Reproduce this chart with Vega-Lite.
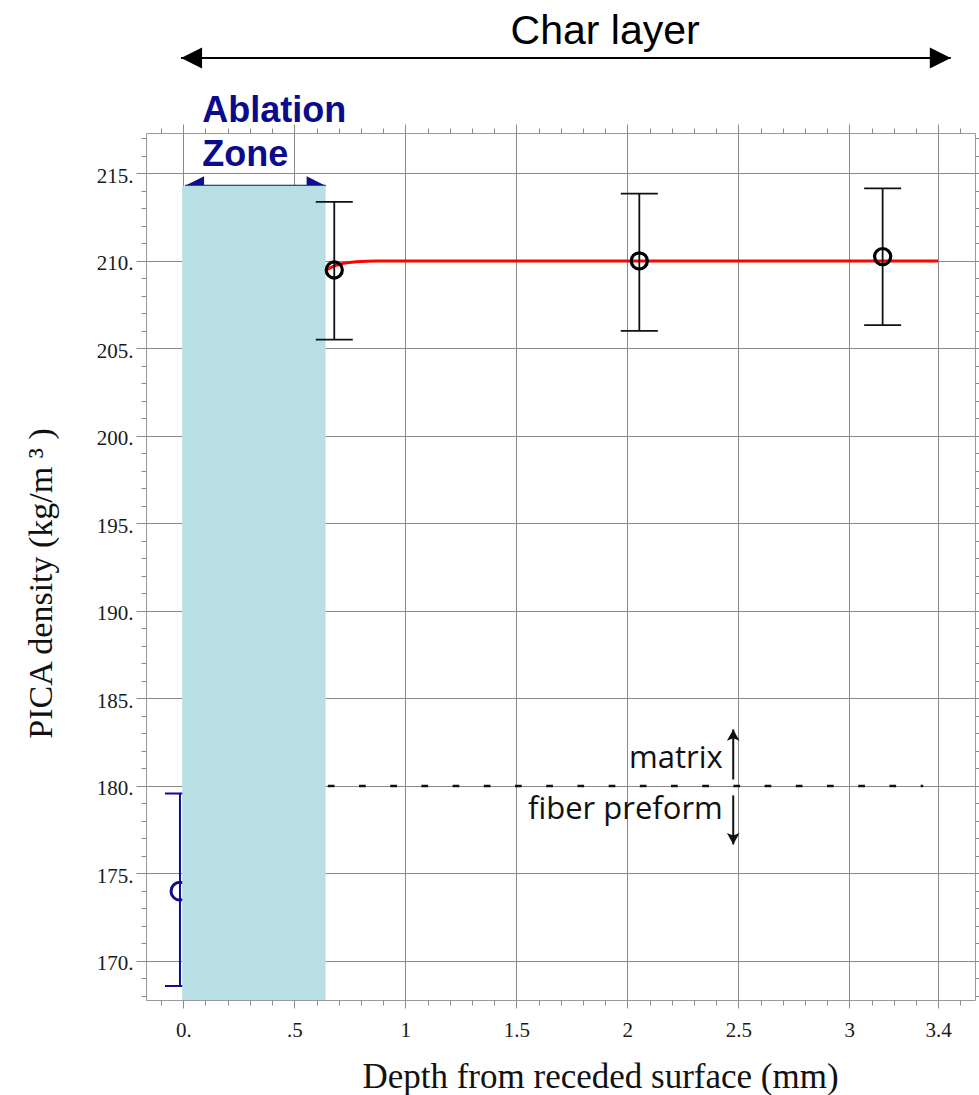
{
  "$schema": "https://vega.github.io/schema/vega-lite/v6.json",
  "width": 829,
  "height": 867,
  "autosize": {"type": "none"},
  "padding": {"left": 146, "top": 133, "right": 4, "bottom": 95},
  "background": "white",
  "config": {
    "view": {"stroke": "#9a9a9a", "strokeWidth": 1},
    "axis": {
      "domain": false, "grid": false, "tickColor": "#8a8a8a", "tickWidth": 1,
      "gridColor": "#8a8a8a", "gridWidth": 1,
      "labelFont": "Liberation Serif", "labelFontSize": 21, "labelColor": "#1a1a1a",
      "titleFont": "Liberation Serif", "titleFontSize": 34, "titleFontWeight": "normal", "titleColor": "#111111"
    }
  },
  "resolve": {"axis": {"x": "independent", "y": "independent"}},
  "datasets": {
    "blue": [{"x": -0.015, "y": 173.99, "lo": 168.57, "hi": 179.57}],
    "zoneArrow": [{"x": 0.008, "x2": 0.641, "y": 214.29}],
    "zoneHeads": [{"x": 0.008, "y": 214.29, "dir": "left"}, {"x": 0.641, "y": 214.29, "dir": "right"}],
    "zone": [{"x": -0.005, "x2": 0.641, "y": 167.77, "y2": 214.29}],
    "redline": [
      {"x": 0.646, "y": 209.5}, {"x": 0.68, "y": 209.72}, {"x": 0.72, "y": 209.86},
      {"x": 0.78, "y": 209.96}, {"x": 0.87, "y": 210.0}, {"x": 3.4, "y": 210.0}
    ],
    "pts": [
      {"x": 0.68, "y": 209.48, "lo": 205.5, "hi": 213.38},
      {"x": 2.054, "y": 210.0, "lo": 206.0, "hi": 213.85},
      {"x": 3.15, "y": 210.25, "lo": 206.33, "hi": 214.15}
    ],
    "dash": [{"x": 0.651, "x2": 3.333, "y": 180}],
    "vArrows": [{"x": 2.477, "y": 180.37, "y2": 183.23}, {"x": 2.477, "y": 179.46, "y2": 176.66}],
    "vHeads": [{"x": 2.477, "y": 183.23, "dir": "up"}, {"x": 2.477, "y": 176.66, "dir": "down"}],
    "labels": [{"x": 2.43, "y": 181.04, "label": "matrix"}, {"x": 2.43, "y": 178.09, "label": "fiber preform"}],
    "zoneText": [{"x": 0.085, "y": 217.93, "label": "Ablation"}, {"x": 0.085, "y": 215.42, "label": "Zone"}],
    "charArrow": [{"x": -0.01, "x2": 3.457, "y": 221.59}],
    "charHeads": [{"x": -0.01, "y": 221.59, "dir": "left"}, {"x": 3.457, "y": 221.59, "dir": "right"}],
    "charText": [{"x": 1.9, "y": 222.37, "label": "Char layer"}]
  },
  "layer": [
    {
      "data": {"name": "blue"},
      "mark": {"type": "errorbar", "color": "#0f0f8c", "thickness": 2, "size": 30, "ticks": true, "opacity": 1},
      "encoding": {
        "x": {"field": "x", "type": "quantitative", "axis": null},
        "y": {"field": "lo", "type": "quantitative", "axis": null},
        "y2": {"field": "hi"}
      }
    },
    {
      "data": {"name": "blue"},
      "mark": {"type": "point", "shape": "circle", "filled": false, "color": "#0f0f8c", "opacity": 1, "strokeWidth": 3, "size": 320},
      "encoding": {
        "x": {"field": "x", "type": "quantitative", "axis": null},
        "y": {"field": "y", "type": "quantitative", "axis": null}
      }
    },
    {
      "data": {"name": "zoneArrow"},
      "mark": {"type": "rule", "color": "#0f0f8c", "strokeWidth": 2},
      "encoding": {
        "x": {"field": "x", "type": "quantitative", "axis": null},
        "x2": {"field": "x2"},
        "y": {"field": "y", "type": "quantitative", "axis": null}
      }
    },
    {
      "data": {"name": "zoneHeads"},
      "mark": {"type": "point", "filled": true, "color": "#0f0f8c", "opacity": 1, "size": 361, "strokeWidth": 0},
      "encoding": {
        "x": {"field": "x", "type": "quantitative", "axis": null},
        "y": {"field": "y", "type": "quantitative", "axis": null},
        "shape": {"field": "dir", "type": "nominal", "legend": null,
          "scale": {"domain": ["left", "right", "up", "down"],
                    "range": ["M0,0L2,-1L2,1Z", "M0,0L-2,-1L-2,1Z", "M0,0L1,1.8L0,1.4L-1,1.8Z", "M0,0L1,-1.8L0,-1.4L-1,-1.8Z"]}}
      }
    },
    {
      "data": {"name": "zone"},
      "mark": {"type": "rect", "color": "#b8dfe4"},
      "encoding": {
        "x": {"field": "x", "type": "quantitative",
          "scale": {"domain": [-0.168, 3.566], "nice": false, "zero": false},
          "axis": {"orient": "bottom", "values": [0, 0.5, 1, 1.5, 2, 2.5, 3, 3.4], "grid": true,
            "tickSize": 8, "labelPadding": 11, "labelFlush": false, "labelOverlap": false,
            "labelExpr": "datum.value == 0 ? '0.' : (datum.value == 0.5 ? '.5' : '' + datum.value)",
            "title": "Depth from receded surface (mm)", "titleX": 454, "titleY": 87, "titleFontSize": 35,
            "titleAlign": "center", "titleBaseline": "alphabetic"}},
        "x2": {"field": "x2"},
        "y": {"field": "y", "type": "quantitative",
          "scale": {"domain": [167.77, 217.31], "nice": false, "zero": false},
          "axis": {"orient": "left", "values": [170, 175, 180, 185, 190, 195, 200, 205, 210, 215], "grid": true,
            "tickSize": 10, "labelPadding": 3, "labelOffset": 3, "labelFlush": false, "labelOverlap": false,
            "labelExpr": "datum.value + '.'",
            "title": "PICA density (kg/m ³ )", "titleX": -95, "titleY": 450, "titleAngle": 270,
            "titleAlign": "center", "titleBaseline": "alphabetic"}},
        "y2": {"field": "y2"}
      }
    },
    {
      "data": {"name": "redline"},
      "mark": {"type": "line", "color": "#ff0000", "strokeWidth": 3, "interpolate": "monotone"},
      "encoding": {
        "x": {"field": "x", "type": "quantitative",
          "axis": {"orient": "bottom", "values": [-0.1, 0.1, 0.2, 0.3, 0.4, 0.6, 0.7, 0.8, 0.9, 1.1, 1.2, 1.3, 1.4, 1.6, 1.7, 1.8, 1.9, 2.1, 2.2, 2.3, 2.4, 2.6, 2.7, 2.8, 2.9, 3.1, 3.2, 3.3, 3.5],
            "tickSize": 5, "labels": false, "grid": false, "title": null}},
        "y": {"field": "y", "type": "quantitative",
          "axis": {"orient": "left", "values": [168, 169, 171, 172, 173, 174, 176, 177, 178, 179, 181, 182, 183, 184, 186, 187, 188, 189, 191, 192, 193, 194, 196, 197, 198, 199, 201, 202, 203, 204, 206, 207, 208, 209, 211, 212, 213, 214, 216, 217],
            "tickSize": 5, "labels": false, "grid": false, "title": null}}
      }
    },
    {
      "data": {"name": "pts"},
      "mark": {"type": "errorbar", "color": "#111111", "thickness": 1.8, "size": 37, "ticks": true, "opacity": 1},
      "encoding": {
        "x": {"field": "x", "type": "quantitative", "axis": null},
        "y": {"field": "lo", "type": "quantitative", "axis": null},
        "y2": {"field": "hi"}
      }
    },
    {
      "data": {"name": "pts"},
      "mark": {"type": "point", "shape": "circle", "filled": false, "color": "#000000", "opacity": 1, "strokeWidth": 3.2, "size": 260},
      "encoding": {
        "x": {"field": "x", "type": "quantitative",
          "axis": {"orient": "top", "values": [0, 0.5, 1, 1.5, 2, 2.5, 3, 3.4], "tickSize": 9, "labels": false, "grid": false, "title": null}},
        "y": {"field": "y", "type": "quantitative", "axis": null}
      }
    },
    {
      "data": {"name": "dash"},
      "mark": {"type": "rule", "color": "#111111", "strokeWidth": 2.5, "strokeDash": [6.7, 24.5]},
      "encoding": {
        "x": {"field": "x", "type": "quantitative",
          "axis": {"orient": "top", "values": [-0.1, 0.1, 0.2, 0.3, 0.4, 0.6, 0.7, 0.8, 0.9, 1.1, 1.2, 1.3, 1.4, 1.6, 1.7, 1.8, 1.9, 2.1, 2.2, 2.3, 2.4, 2.6, 2.7, 2.8, 2.9, 3.1, 3.2, 3.3, 3.5],
            "tickSize": 5, "labels": false, "grid": false, "title": null}},
        "x2": {"field": "x2"},
        "y": {"field": "y", "type": "quantitative",
          "axis": {"orient": "right", "values": [168, 169, 170, 171, 172, 173, 174, 175, 176, 177, 178, 179, 180, 181, 182, 183, 184, 185, 186, 187, 188, 189, 190, 191, 192, 193, 194, 195, 196, 197, 198, 199, 200, 201, 202, 203, 204, 205, 206, 207, 208, 209, 210, 211, 212, 213, 214, 215, 216, 217],
            "tickSize": 4, "labels": false, "grid": false, "title": null}}
      }
    },
    {
      "data": {"name": "vArrows"},
      "mark": {"type": "rule", "color": "#111111", "strokeWidth": 2},
      "encoding": {
        "x": {"field": "x", "type": "quantitative", "axis": null},
        "y": {"field": "y", "type": "quantitative", "axis": null},
        "y2": {"field": "y2"}
      }
    },
    {
      "data": {"name": "vHeads"},
      "mark": {"type": "point", "filled": true, "color": "#111111", "opacity": 1, "size": 161, "strokeWidth": 0},
      "encoding": {
        "x": {"field": "x", "type": "quantitative", "axis": null},
        "y": {"field": "y", "type": "quantitative", "axis": null},
        "shape": {"field": "dir", "type": "nominal", "legend": null,
          "scale": {"domain": ["left", "right", "up", "down"],
                    "range": ["M0,0L2,-1L2,1Z", "M0,0L-2,-1L-2,1Z", "M0,0L1,1.8L0,1.4L-1,1.8Z", "M0,0L1,-1.8L0,-1.4L-1,-1.8Z"]}}
      }
    },
    {
      "data": {"name": "labels"},
      "mark": {"type": "text", "font": "Open Sans", "fontSize": 31, "color": "#111111", "align": "right", "baseline": "alphabetic"},
      "encoding": {
        "x": {"field": "x", "type": "quantitative", "axis": null},
        "y": {"field": "y", "type": "quantitative", "axis": null},
        "text": {"field": "label"}
      }
    },
    {
      "data": {"name": "zoneText"},
      "mark": {"type": "text", "font": "Liberation Sans", "fontWeight": "bold", "fontSize": 36, "color": "#0b0b8e", "align": "left", "baseline": "alphabetic"},
      "encoding": {
        "x": {"field": "x", "type": "quantitative", "axis": null},
        "y": {"field": "y", "type": "quantitative", "axis": null},
        "text": {"field": "label"}
      }
    },
    {
      "data": {"name": "charArrow"},
      "mark": {"type": "rule", "color": "#000000", "strokeWidth": 2},
      "encoding": {
        "x": {"field": "x", "type": "quantitative", "axis": null},
        "x2": {"field": "x2"},
        "y": {"field": "y", "type": "quantitative", "axis": null}
      }
    },
    {
      "data": {"name": "charHeads"},
      "mark": {"type": "point", "filled": true, "color": "#000000", "opacity": 1, "size": 441, "strokeWidth": 0},
      "encoding": {
        "x": {"field": "x", "type": "quantitative", "axis": null},
        "y": {"field": "y", "type": "quantitative", "axis": null},
        "shape": {"field": "dir", "type": "nominal", "legend": null,
          "scale": {"domain": ["left", "right", "up", "down"],
                    "range": ["M0,0L2,-1L2,1Z", "M0,0L-2,-1L-2,1Z", "M0,0L1,1.8L0,1.4L-1,1.8Z", "M0,0L1,-1.8L0,-1.4L-1,-1.8Z"]}}
      }
    },
    {
      "data": {"name": "charText"},
      "mark": {"type": "text", "font": "Liberation Sans", "fontSize": 41, "color": "#000000", "align": "center", "baseline": "alphabetic"},
      "encoding": {
        "x": {"field": "x", "type": "quantitative", "axis": null},
        "y": {"field": "y", "type": "quantitative", "axis": null},
        "text": {"field": "label"}
      }
    }
  ]
}
